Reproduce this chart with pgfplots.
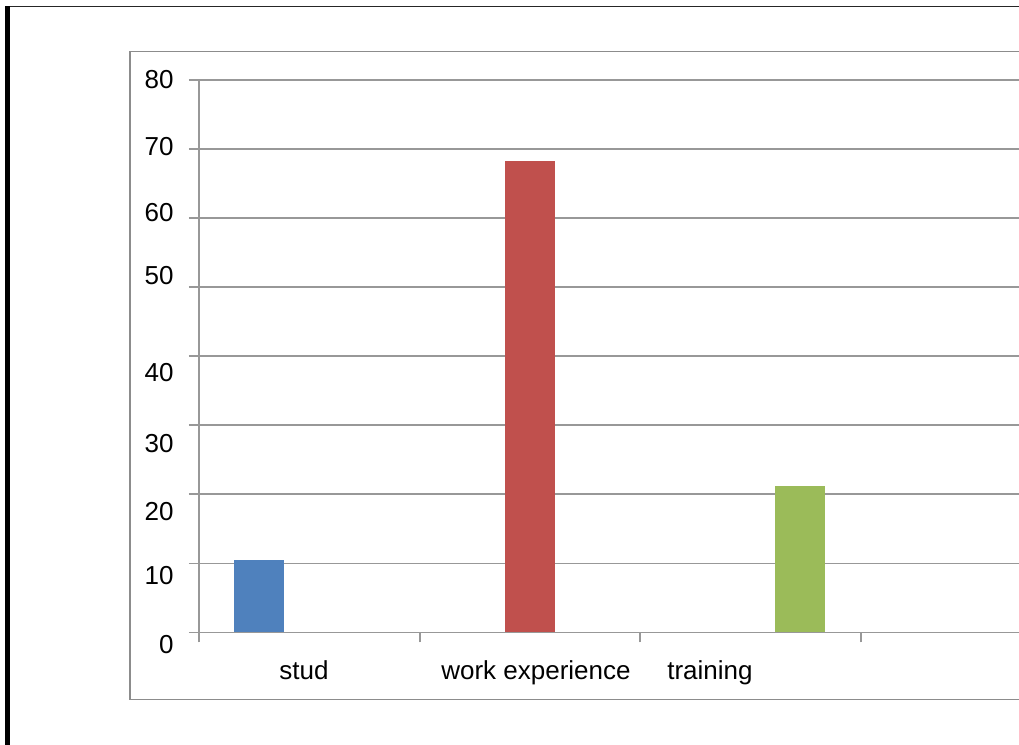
\documentclass[border=0pt]{standalone}
\usepackage{fontspec}
\setmainfont{Liberation Sans}
\usepackage{pgfplots}
\pgfplotsset{compat=1.18}

\definecolor{gridgray}{RGB}{152,152,152}
\definecolor{framegray}{RGB}{140,140,140}
\definecolor{barblue}{RGB}{79,129,189}
\definecolor{barred}{RGB}{192,80,77}
\definecolor{bargreen}{RGB}{155,187,89}

\begin{document}
\begin{tikzpicture}
% page is 1019x745 px at 0.5pt per px
\useasboundingbox (0,0) rectangle (509.5pt,372.5pt);
\fill[white] (0,0) rectangle (509.5pt,372.5pt);
% outer frame (cut off on the right and bottom)
\draw[line width=0.85pt, black!85] (3.75pt,369.25pt) -- (509.5pt,369.25pt);
\draw[line width=2.4pt, black] (3.75pt,0pt) -- (3.75pt,369.7pt);
% chart area
\draw[line width=0.6pt, framegray] (509.5pt,346.65pt) -- (65pt,346.65pt) -- (65pt,22.75pt) -- (509.5pt,22.75pt);

\begin{axis}[
    at={(99.5pt,56.25pt)}, anchor=south west,
    scale only axis,
    width=410pt, height=276.25pt,
    xmin=0, xmax=3.7155,
    ymin=0, ymax=80,
    axis x line*=bottom, axis y line*=left,
    axis line style={gridgray, line width=0.9pt},
    ymajorgrids,
    grid style={gridgray, line width=0.9pt},
    tick style={gridgray, line width=0.9pt},
    tick align=outside,
    major tick length=5pt,
    ytick={0,10,...,80},
    xtick={0,1,2,3},
    xticklabels={},
    tick label style={font=\fontsize{13}{15}\selectfont, inner sep=0pt},
    /pgf/number format/assume math mode=true,
    yticklabel style={anchor=base east, xshift=-7.5pt, yshift=-4.65pt},
    % the source shifts each number a little off its gridline
    yticklabel={\pgfmathparse{{6,6,8.5,9,8,-6,-3,-1.5,-0.5}[\ticknum]}\raisebox{-\pgfmathresult pt}{\pgfmathprintnumber{\tick}}},
    extra x ticks={0.476,1.527,2.315},
    extra x tick labels={stud,work experience,training},
    extra x tick style={grid=none, major tick length=0pt,
        tick label style={anchor=base, yshift=-23.5pt}},
    ybar, bar width=0.2266,
]
\addplot[fill=barblue, draw=none, bar shift=0pt] coordinates {(0.272,10.5)};
\addplot[fill=barred, draw=none, bar shift=0pt] coordinates {(1.4998,68.3)};
\addplot[fill=bargreen, draw=none, bar shift=0pt] coordinates {(2.723,21.2)};
\end{axis}
\end{tikzpicture}
\end{document}
